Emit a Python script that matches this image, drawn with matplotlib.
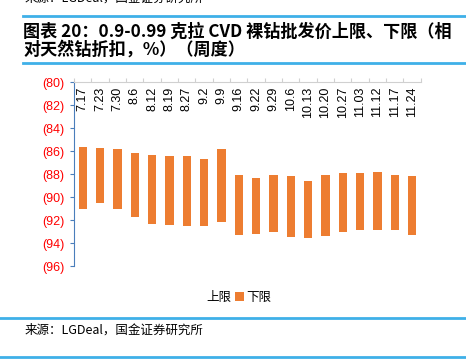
import matplotlib.pyplot as plt
from matplotlib.patches import Patch
from matplotlib.lines import Line2D

plt.rcParams['font.family'] = ['Noto Sans CJK SC', 'DejaVu Sans']

# weekly dates
dates = ['7.17', '7.23', '7.30', '8.6', '8.12', '8.19', '8.27', '9.2', '9.9', '9.16',
         '9.22', '9.29', '10.6', '10.13', '10.20', '10.27', '11.03', '11.12', '11.17', '11.24']
# discount vs natural diamond, % (shown in brackets)
upper = [85.6, 85.7, 85.8, 86.2, 86.3, 86.4, 86.4, 86.7, 85.8, 88.1,
         88.3, 88.1, 88.2, 88.6, 88.1, 87.9, 87.9, 87.8, 88.1, 88.2]
lower = [91.0, 90.5, 91.0, 91.7, 92.3, 92.4, 92.5, 92.5, 92.2, 93.3,
         93.2, 93.0, 93.5, 93.6, 93.4, 93.0, 92.9, 92.9, 92.9, 93.3]
yticks = [80, 82, 84, 86, 88, 90, 92, 94, 96]

orange = '#ed7d31'
blue = '#3fb0e8'

fig = plt.figure(figsize=(4.66, 3.62), dpi=100)
ax = fig.add_axes([0.159, 0.265, 0.744, 0.508])

x = range(len(dates))
heights = [lo - up for up, lo in zip(upper, lower)]
ax.bar(x, heights, bottom=upper, width=0.48, color=orange)

ax.set_ylim(96, 80)
ax.set_xlim(-0.5, len(dates) - 0.5)
ax.set_yticks(yticks)
ax.set_yticklabels(['(%d)' % v for v in yticks], color='red', fontsize=9,
                   family=['Liberation Sans', 'DejaVu Sans'])
ax.tick_params(axis='y', length=3, color='#4a7ebb', pad=4)

ax.set_xticks([i - 0.5 for i in range(len(dates) + 1)])
ax.set_xticklabels([])
ax.xaxis.tick_top()
ax.tick_params(axis='x', length=3, color='#d0d0d0', direction='out')
for i, d in enumerate(dates):
    ax.text(i, 80.4, d, rotation=90, ha='center', va='top', fontsize=9,
            family=['Liberation Sans', 'DejaVu Sans'])

for s in ['right', 'bottom']:
    ax.spines[s].set_visible(False)
ax.spines['top'].set_color('#d0d0d0')
ax.spines['left'].set_color('#4a7ebb')

handles = [Patch(facecolor='white', edgecolor='none'), Patch(facecolor=orange)]
fig.legend(handles, ['上限', '下限'], loc='center', bbox_to_anchor=(0.50, 0.178),
           ncol=2, frameon=False, fontsize=9, handlelength=0.7, handleheight=0.7,
           columnspacing=0.3, handletextpad=0.2)

# header / footer decoration
fig.text(0.052, 1.006, '来源：LGDeal，国金证券研究所', fontsize=9, va='center')
fig.add_artist(Line2D([0.05, 1.0], [0.955, 0.955], color=blue, lw=2))
fig.text(0.05, 0.913, '图表 20：0.9-0.99 克拉 CVD 裸钻批发价上限、下限（相', fontsize=12.3,
         fontweight='bold', va='center')
fig.text(0.05, 0.864, '对天然钻折扣，%）（周度）', fontsize=12.3, fontweight='bold', va='center')
fig.add_artist(Line2D([0.05, 1.0], [0.826, 0.826], color=blue, lw=2))
fig.add_artist(Line2D([0.0, 1.0], [0.122, 0.122], color=blue, lw=2))
fig.text(0.052, 0.088, '来源：LGDeal，国金证券研究所', fontsize=9, va='center')
fig.add_artist(Line2D([0.0, 1.0], [0.014, 0.014], color=blue, lw=2))

fig.savefig('out.png', dpi=100)
